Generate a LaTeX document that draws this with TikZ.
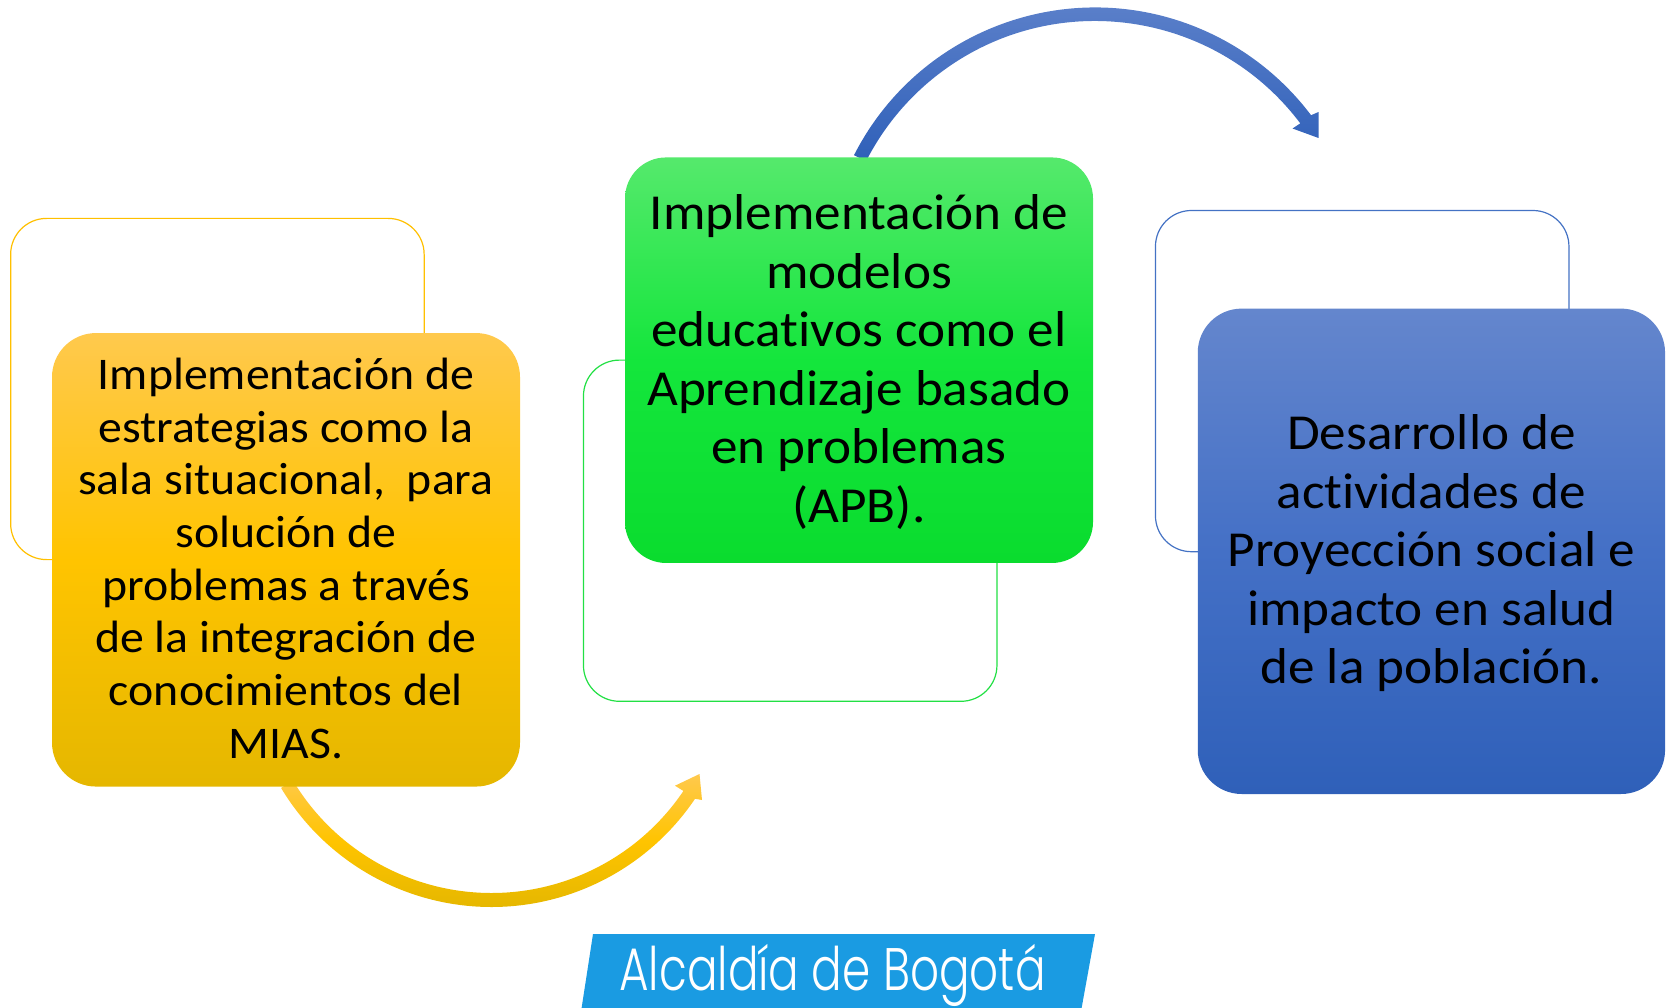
\documentclass[tikz,border=0pt]{standalone}
\usepackage{fontspec}
\setmainfont[Ligatures=NoCommon,FakeStretch=1.055]{Carlito}
\newfontfamily\logofont[FakeStretch=0.755]{Poppins Light}
\usetikzlibrary{calc}
\definecolor{orTop}{HTML}{FFC94D}
\definecolor{orMid}{HTML}{FFC400}
\definecolor{orBot}{HTML}{E5B700}
\definecolor{grTop}{HTML}{55E96C}
\definecolor{grMid}{HTML}{14E63C}
\definecolor{grBot}{HTML}{0ADC2E}
\definecolor{blTop}{HTML}{6486CD}
\definecolor{blMid}{HTML}{4470C6}
\definecolor{blBot}{HTML}{2F60B9}
\definecolor{orLine}{HTML}{FFC000}
\definecolor{grLine}{HTML}{22E044}
\definecolor{blLine}{HTML}{4472C4}
\definecolor{logoBlue}{HTML}{1A9BE2}
\tikzset{
  x=1pt,y=-1pt,
  outlinebox/.style={draw,line width=1.2pt,fill=white,rounded corners=36pt,inner sep=0pt,minimum width=413.5pt,minimum height=341.2pt},
  cardbox/.style={rounded corners=44pt,inner sep=0pt},
  cardorange/.style={cardbox,top color=orTop,bottom color=orBot,middle color=orMid},
  cardgreen/.style={cardbox,rounded corners=41pt,top color=grTop,bottom color=grBot,middle color=grMid},
  cardblue/.style={cardbox,top color=blTop,bottom color=blBot,middle color=blMid},
  cardtext/.style={inner sep=0pt,align=center,text=black},
  smalltext/.style={cardtext,font=\fontsize{45.3pt}{52.7pt}\selectfont},
  bigtext/.style={cardtext,font=\fontsize{50.4pt}{58.5pt}\selectfont},
}
\begin{document}
\begin{tikzpicture}
\useasboundingbox (0,0) rectangle (1669,1008);
% outline boxes
\node[outlinebox,draw=orLine] (orangeback) at (217.4,389) {};
\node[outlinebox,draw=grLine] (greenback) at (790.2,530.7) {};
\node[outlinebox,draw=blLine] (blueback) at (1362.2,381.1) {};
% curved arrows
\coordinate (bluec) at (1095,278);
\coordinate (bluecornerA) at (1318.5,112);
\coordinate (bluetip) at (1318.5,138);
\coordinate (bluecornerB) at (1292.5,128.5);
\shade[top color=blTop,bottom color=blBot]
  ($(bluec)+(153:270.5pt)$) arc[start angle=153,end angle=37,radius=270.5pt]
  -- (bluecornerA) -- (bluetip) -- (bluecornerB)
  -- ($(bluec)+(37:257pt)$) arc[start angle=37,end angle=153,radius=257pt] -- cycle;
\coordinate (orc) at (491.5,661.5);
\coordinate (orcornerA) at (702,800);
\coordinate (ortip) at (699.5,774);
\coordinate (orcornerB) at (675,785.7);
\shade[top color=orTop,bottom color=orBot,middle color=orMid]
  ($(orc)+(211:245.5pt)$) arc[start angle=211,end angle=326,radius=245.5pt]
  -- (orcornerA) -- (ortip) -- (orcornerB)
  -- ($(orc)+(326:231.5pt)$) arc[start angle=326,end angle=211,radius=231.5pt] -- cycle;
% cards
\node[cardorange,minimum width=468pt,minimum height=453.5pt] (orange) at (286,559.8) {};
\node[smalltext] (orangetext) at ($(orange.center)+(0,-1.5)$)
  {Implementación de\\estrategias como la\\sala situacional,\ \ para\\solución de\\problemas a través\\de la integración de\\conocimientos del\\MIAS.};
\node[cardgreen,minimum width=468pt,minimum height=405.5pt] (green) at (859,360.2) {};
\node[bigtext] (greentext) at ($(green.center)+(0,2)$)
  {Implementación de\\modelos\\educativos como el\\Aprendizaje basado\\en problemas\\(APB).};
\node[cardblue,minimum width=467.3pt,minimum height=485.4pt] (blue) at (1431.4,551.3) {};
\node[bigtext] (bluetext) at ($(blue.center)+(0,2)$)
  {Desarrollo de\\actividades de\\Proyección social e\\impacto en salud\\de la población.};
% logo
\fill[logoBlue] (593,934) -- (1095,934) -- (1081.6,1008) -- (581.6,1008) -- cycle;
\node[text=white,font=\logofont\fontsize{60pt}{60pt}\selectfont,inner sep=0pt,anchor=base] (logo) at (832.5,990) {Alcaldía de Bogotá};
\end{tikzpicture}
\end{document}
